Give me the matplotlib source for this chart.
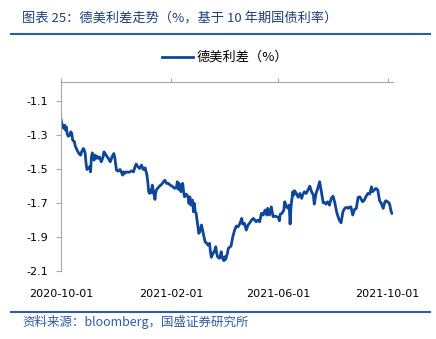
import matplotlib
matplotlib.use("Agg")
import matplotlib.pyplot as plt
import matplotlib.dates as mdates
import numpy as np
import pandas as pd

plt.rcParams['font.family'] = ['DejaVu Sans', 'Noto Sans CJK SC']

start_date = "2020-10-01"
day_offsets = [0, 1, 3, 4, 5, 6, 7, 8, 10, 11, 12, 13, 15, 16, 18, 20, 22, 23, 25, 26,
               27, 28, 29, 30, 32, 33, 34, 35, 36, 37, 38, 39, 40, 42, 43, 45, 47, 48, 50, 51,
               53, 55, 57, 59, 60, 61, 62, 64, 66, 68, 69, 70, 71, 73, 75, 77, 79, 81, 83, 84,
               86, 88, 90, 92, 94, 96, 97, 98, 99, 100, 101, 102, 103, 105, 106, 107, 109, 110, 112, 114,
               116, 118, 120, 122, 124, 125, 127, 129, 130, 131, 132, 134, 135, 136, 137, 138, 140, 142, 143, 144,
               145, 147, 148, 149, 150, 151, 153, 154, 155, 157, 159, 161, 163, 164, 166, 167, 168, 170, 172, 173,
               174, 175, 177, 178, 179, 180, 182, 183, 184, 186, 187, 189, 190, 192, 194, 196, 198, 200, 202, 203,
               205, 207, 209, 211, 213, 215, 216, 218, 220, 222, 224, 226, 228, 230, 231, 233, 235, 237, 239, 241,
               243, 244, 245, 247, 249, 250, 252, 254, 255, 256, 257, 259, 260, 261, 263, 265, 267, 269, 270, 272,
               274, 276, 278, 280, 282, 283, 285, 287, 289, 291, 293, 295, 296, 298, 300, 302, 304, 306, 308, 309,
               311, 313, 315, 317, 319, 321, 322, 324, 326, 328, 330, 332, 334, 336, 337, 339, 341, 343, 345, 347,
               348, 350, 352, 354, 356, 358, 360, 362, 363, 365, 367, 369, 370]
spread = [-1.209, -1.233, -1.262, -1.243, -1.272, -1.253, -1.296, -1.308, -1.302, -1.282,
          -1.292, -1.331, -1.341, -1.367, -1.390, -1.410, -1.420, -1.400, -1.380, -1.390,
          -1.410, -1.468, -1.504, -1.498, -1.488, -1.518, -1.430, -1.406, -1.430, -1.449,
          -1.420, -1.439, -1.425, -1.439, -1.430, -1.459, -1.430, -1.400, -1.415, -1.425,
          -1.439, -1.459, -1.430, -1.410, -1.430, -1.468, -1.508, -1.514, -1.504, -1.527,
          -1.537, -1.518, -1.527, -1.518, -1.521, -1.518, -1.512, -1.518, -1.484, -1.472,
          -1.488, -1.498, -1.478, -1.504, -1.494, -1.537, -1.576, -1.635, -1.645, -1.625,
          -1.641, -1.596, -1.625, -1.680, -1.635, -1.621, -1.609, -1.602, -1.594, -1.580,
          -1.567, -1.586, -1.586, -1.596, -1.602, -1.606, -1.615, -1.609, -1.576, -1.621,
          -1.586, -1.635, -1.606, -1.586, -1.635, -1.665, -1.649, -1.665, -1.704, -1.665,
          -1.714, -1.684, -1.753, -1.704, -1.753, -1.762, -1.841, -1.880, -1.871, -1.831,
          -1.880, -1.930, -1.939, -1.949, -1.939, -1.988, -2.021, -1.998, -1.978, -1.959,
          -1.998, -2.018, -2.027, -2.014, -1.988, -2.021, -2.041, -2.018, -2.033, -1.998,
          -1.968, -1.959, -1.955, -1.900, -1.861, -1.837, -1.841, -1.821, -1.792, -1.825,
          -1.821, -1.861, -1.831, -1.818, -1.802, -1.792, -1.798, -1.812, -1.802, -1.812,
          -1.762, -1.772, -1.743, -1.772, -1.733, -1.772, -1.724, -1.782, -1.778, -1.782,
          -1.786, -1.806, -1.767, -1.762, -1.743, -1.694, -1.724, -1.733, -1.714, -1.825,
          -1.724, -1.635, -1.655, -1.629, -1.645, -1.668, -1.645, -1.674, -1.655, -1.635,
          -1.645, -1.625, -1.602, -1.635, -1.655, -1.708, -1.645, -1.615, -1.576, -1.635,
          -1.700, -1.700, -1.708, -1.694, -1.714, -1.674, -1.661, -1.700, -1.753, -1.772,
          -1.802, -1.818, -1.753, -1.733, -1.727, -1.733, -1.727, -1.724, -1.772, -1.739,
          -1.733, -1.668, -1.665, -1.684, -1.694, -1.684, -1.661, -1.645, -1.649, -1.606,
          -1.635, -1.625, -1.615, -1.625, -1.688, -1.704, -1.733, -1.694, -1.688, -1.694,
          -1.704, -1.753, -1.762]
y_ticks = [-1.1, -1.3, -1.5, -1.7, -1.9, -2.1]
x_tick_labels = ["2020-10-01", "2021-02-01", "2021-06-01", "2021-10-01"]

title = "图表 25：德美利差走势（%，基于 10 年期国债利率）"
legend_label = "德美利差（%）"
source = "资料来源：bloomberg，国盛证券研究所"

dates = pd.to_datetime(start_date) + pd.to_timedelta(day_offsets, unit="D")

W, H = 436, 339
fig = plt.figure(figsize=(W / 100, H / 100), dpi=100)
fig.patch.set_facecolor("white")

ax = fig.add_axes([61 / W, 1 - 270.7 / H, (393 - 61) / W, (270.7 - 82.2) / H])
line_color = "#0e469a"
ax.plot(dates, spread, color=line_color, lw=2.0, solid_joinstyle="round")

ax.set_ylim(-2.1, -0.99)
ax.set_yticks(y_ticks)
ax.set_yticklabels([f"{v:.1f}" for v in y_ticks])
ax.set_xlim(pd.to_datetime(start_date), dates[-1] + pd.Timedelta(days=1))
xt = pd.to_datetime(x_tick_labels)
ax.set_xticks(xt)
ax.set_xticklabels(x_tick_labels)

for s in ["right", "bottom"]:
    ax.spines[s].set_visible(False)
for s in ["left", "top"]:
    ax.spines[s].set_color("#a6a6a6")
    ax.spines[s].set_linewidth(0.8)

ax.tick_params(axis="y", direction="out", length=3.5, width=0.8, color="#a6a6a6",
               labelsize=8, labelcolor="black", pad=6)
ax.tick_params(axis="x", top=True, bottom=False, labeltop=False, labelbottom=True,
               direction="out", length=3, width=0.8, color="#a6a6a6",
               labelsize=8, labelcolor="black", pad=10)

cjk = ['Noto Sans CJK SC', 'DejaVu Sans']
fig.text(22 / W, 1 - 18.5 / H, title, fontsize=9.5, color="#1c3f7a", family=cjk,
         fontstyle="italic", va="center", ha="left")
fig.add_artist(plt.Line2D([11 / W, 430 / W], [1 - 34 / H, 1 - 34 / H], color="#2f5ca8", lw=1.5))

fig.add_artist(plt.Line2D([162 / W, 193 / W], [1 - 57.3 / H, 1 - 57.3 / H], color=line_color, lw=2.0))
fig.text(197 / W, 1 - 57.3 / H, legend_label, fontsize=9.5, color="black", family=cjk,
         va="center", ha="left")

fig.add_artist(plt.Line2D([11 / W, 430 / W], [1 - 312.3 / H, 1 - 312.3 / H], color="#2f5ca8", lw=1.5))
fig.text(22 / W, 1 - 322 / H, source, fontsize=9, color="#2f5ca8", family=cjk,
         fontstyle="italic", va="center", ha="left")

fig.savefig("out.png", dpi=100, facecolor="white")
